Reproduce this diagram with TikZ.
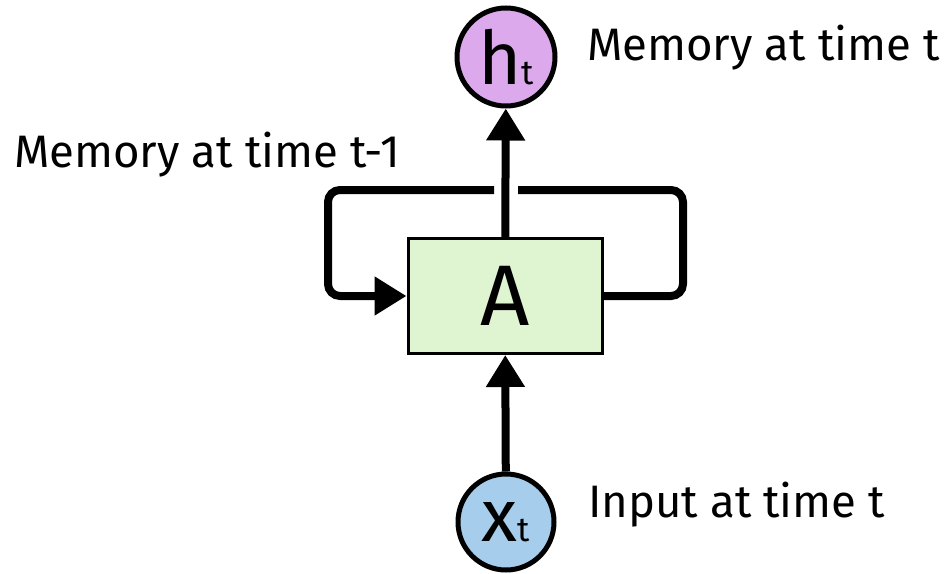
\documentclass[tikz,border=0pt]{standalone}
\usepackage{fontspec}
\setmainfont{Fira Sans}
\usetikzlibrary{arrows.meta}

\definecolor{cellgreen}{RGB}{223,245,210}
\definecolor{outpurple}{RGB}{220,170,236}
\definecolor{inblue}{RGB}{166,205,235}

\tikzset{
	wire/.style={line width=8pt, rounded corners=12pt},
	arr/.style={wire, -{Triangle[length=32pt,width=37pt]}},
	cell/.style={draw, line width=3pt, fill=cellgreen, minimum width=194pt, minimum height=115pt, inner sep=0pt},
	state/.style={draw, circle, line width=5pt, minimum size=98pt, inner sep=0pt},
	lbl/.style={anchor=base west, inner sep=0pt, font=\fontsize{45.5}{50}\selectfont}
}

\begin{document}
\begin{tikzpicture}[x=1pt, y=-1pt]
	\useasboundingbox (0,0) rectangle (945,573);
	% cell, output and input
	\node[cell] (A) at (505,296) {\fontsize{86}{86}\selectfont A};
	\node[state, fill=outpurple] (h) at (506,57) {\fontsize{74}{74}\selectfont h{\fontsize{34}{34}\selectfont t}};
	\node[state, fill=inblue, minimum size=96pt] (x) at (506,522) {\fontsize{74}{74}\selectfont x{\fontsize{34}{34}\selectfont t}};
	\draw[arr] (x) -- (A);
	\draw[arr] (A) -- (h);
	% loop back into the cell
	\coordinate (gapL) at (494,190);
	\coordinate (gapR) at (518,190);
	\coordinate (tl) at (328,190);
	\coordinate (tr) at (683,190);
	\draw[wire] (A.east) -| (tr) -- (gapR);
	\draw[arr] (gapL) -- (tl) |- (A.west);
	% labels
	\node[lbl] (lh) at (587,60) {Memory at time t};
	\node[lbl] (lprev) at (14,167) {Memory at time t-1};
	\node[lbl] (lx) at (588,517) {Input at time t};
\end{tikzpicture}
\end{document}
